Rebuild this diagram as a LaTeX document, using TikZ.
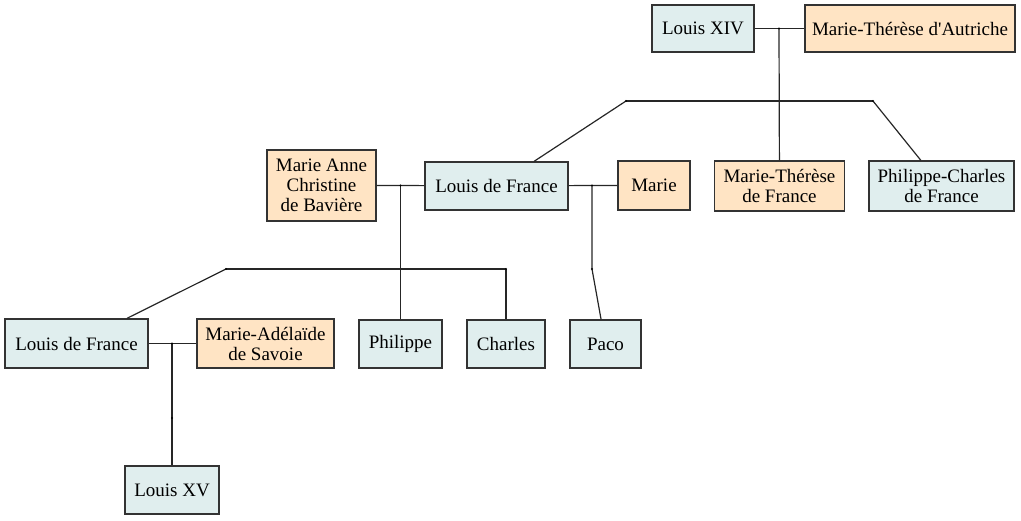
\documentclass[tikz,border=0pt]{standalone}
\usepackage{fontspec}
\setmainfont{Liberation Serif}
\definecolor{boyfill}{HTML}{E0EEEE}
\definecolor{girlfill}{HTML}{FFE4C4}
\definecolor{edgecol}{HTML}{333333}
\begin{document}
\begin{tikzpicture}[x=1pt,y=-1pt,
  person/.style={draw=edgecol,line width=1.4pt,inner sep=0pt,align=center,
    font=\fontsize{19}{20}\selectfont},
  boy/.style={person,fill=boyfill},
  girl/.style={person,fill=girlfill},
  link/.style={draw=black!85,line width=1.2pt},
  jdot/.style={circle,fill=black,inner sep=0pt,minimum size=2.4pt}]
\useasboundingbox (0,0) rectangle (1021,520);
\node[boy,minimum width=102pt,minimum height=47pt] (lxiv) at (703,28.5) {Louis XIV};
\node[girl,minimum width=210pt,minimum height=47pt] (mta) at (910,28.5) {Marie-Thérèse d\textquotesingle Autriche};
\node[boy,minimum width=143pt,minimum height=48pt] (ldfa) at (496.5,186) {Louis de France};
\node[girl,minimum width=130pt,minimum height=50pt] (mtf) at (779.5,186) {Marie-Thérèse\\de France};
\node[boy,minimum width=145pt,minimum height=50pt] (pcf) at (941.5,186) {Philippe-Charles\\de France};
\node[girl,minimum width=72pt,minimum height=49pt] (marie) at (654,185.5) {Marie};
\node[girl,minimum width=109pt,minimum height=71pt] (mac) at (321.5,185.5) {Marie Anne\\Christine\\de Bavière};
\node[boy,minimum width=143pt,minimum height=49pt] (ldfb) at (76.5,343.5) {Louis de France};
\node[girl,minimum width=137pt,minimum height=49pt] (mas) at (265.5,343.5) {Marie-Adélaïde\\de Savoie};
\node[boy,minimum width=83pt,minimum height=48pt] (phil) at (400.5,344) {Philippe};
\node[boy,minimum width=78pt,minimum height=48pt] (charles) at (506,344) {Charles};
\node[boy,minimum width=71pt,minimum height=48pt] (paco) at (605.5,344) {Paco};
\node[boy,minimum width=94pt,minimum height=48pt] (lxv) at (172,490) {Louis XV};
% junctions
\coordinate (m1) at (779,28.5);
\coordinate (c1l) at (626,101);
\coordinate (c1r) at (873,101);
\coordinate (m2) at (400.5,185.5);
\coordinate (c2l) at (226,269);
\coordinate (c2r) at (506,269);
\coordinate (m3) at (592,185.5);
\coordinate (c3) at (592,269);
\coordinate (m4) at (172,343.5);
\coordinate (c4) at (172,418);
% marriages
\draw[link] (lxiv) -- (m1) -- (mta);
\draw[link] (mac) -- (m2) -- (ldfa);
\draw[link] (ldfa) -- (m3) -- (marie);
\draw[link] (ldfb) -- (m4) -- (mas);
% children
\draw[link] (m1) -- (mtf);
\draw[link] (c1l) -- (c1r);
\draw[link] (c1l) -- (ldfa);
\draw[link] (c1r) -- (pcf);
\draw[link] (m2) -- (phil);
\draw[link] (c2l) -- (c2r);
\draw[link] (c2l) -- (ldfb);
\draw[link] (c2r) -- (charles);
\draw[link] (m3) -- (c3) -- (paco);
\draw[link] (m4) -- (c4) -- (lxv);
% dots
\foreach \p in {m1,c1l,c1r,m2,c2l,c2r,m3,c3,m4,c4} \node[jdot] at (\p) {};
\end{tikzpicture}
\end{document}
